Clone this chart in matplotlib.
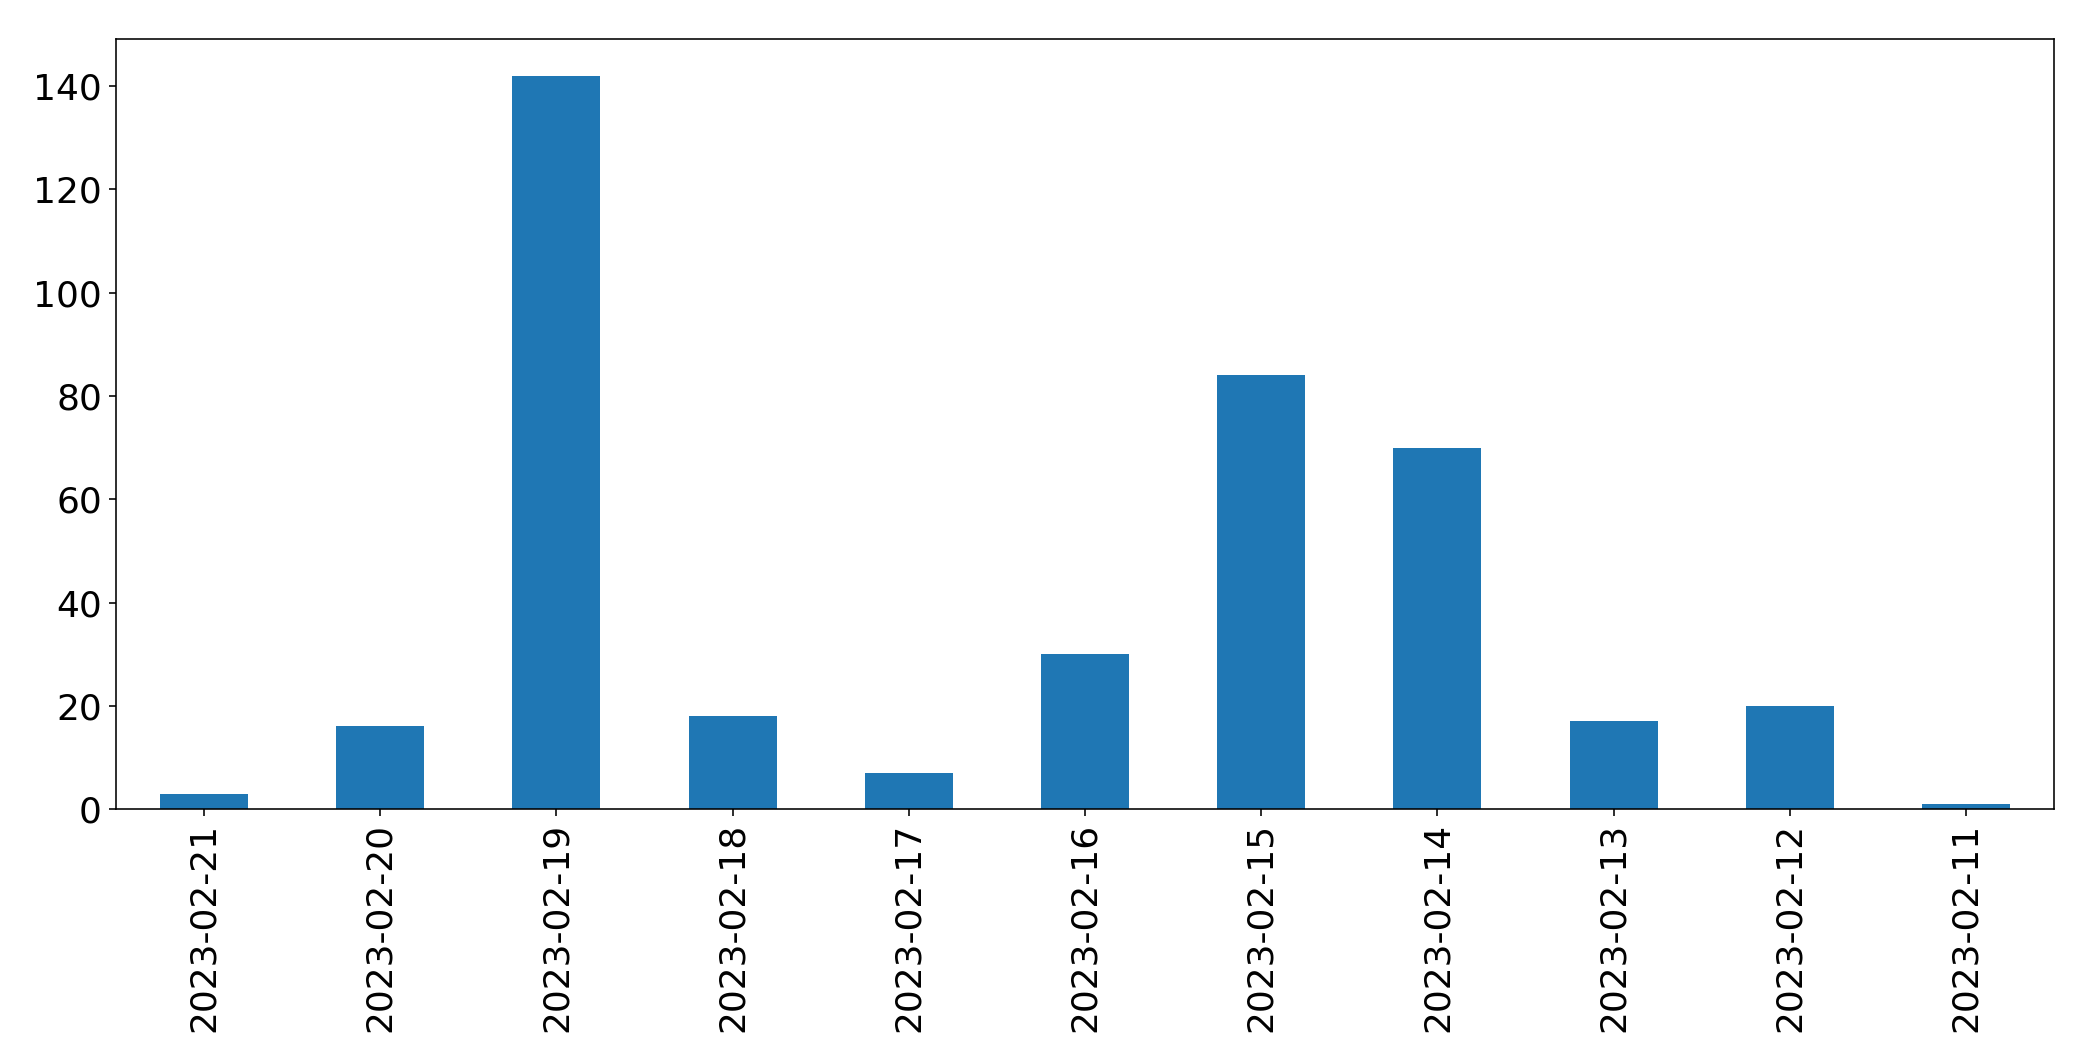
import numpy as np
import matplotlib
matplotlib.use("Agg")
from matplotlib import pyplot as plt

# daily counts, newest first (as in the source chart)
dates = ['2023-02-21', '2023-02-20', '2023-02-19', '2023-02-18', '2023-02-17', '2023-02-16',
         '2023-02-15', '2023-02-14', '2023-02-13', '2023-02-12', '2023-02-11']
counts = [3, 16, 142, 18, 7, 30, 84, 70, 17, 20, 1]

fig = plt.figure(figsize=(2093 / 144, 1061 / 144), dpi=144)
ax = fig.add_axes([0.0554, 0.2375, 0.9814 - 0.0554, 0.963 - 0.2375])

pos = np.arange(len(dates))
ax.bar(pos, counts, width=0.5, color='#1f77b4')
ax.set_xlim(-0.5, len(dates) - 0.5)
ax.set_ylim(0, max(counts) * 1.05)
ax.set_xticks(pos)
ax.set_xticklabels(dates, rotation=90)
ax.tick_params(axis='both', labelsize=18)

fig.savefig('out.png', dpi=144)
